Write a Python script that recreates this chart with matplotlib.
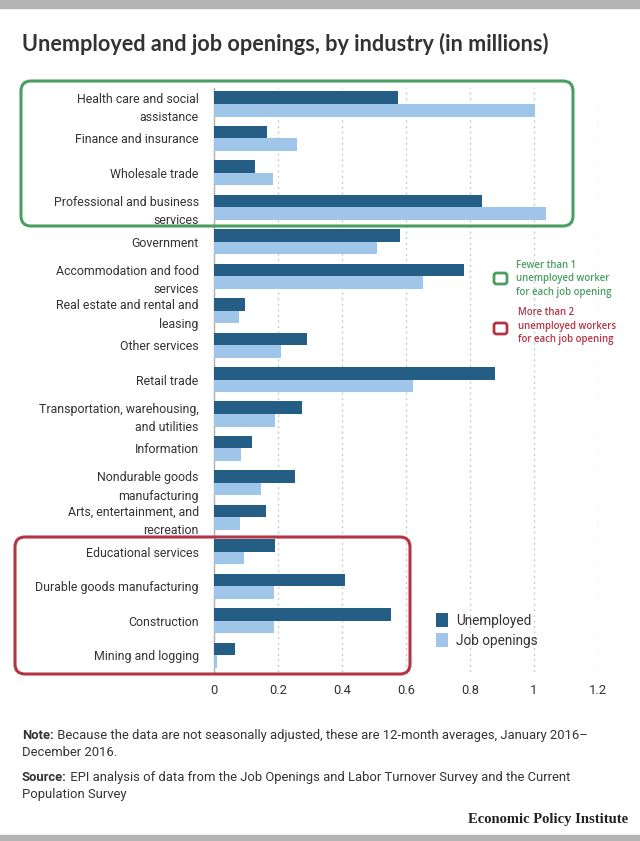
import matplotlib
matplotlib.use("Agg")
import matplotlib.pyplot as plt
from matplotlib.patches import FancyBboxPatch, Rectangle
import numpy as np

industries = [
    "Health care and social\nassistance",
    "Finance and insurance",
    "Wholesale trade",
    "Professional and business\nservices",
    "Government",
    "Accommodation and food\nservices",
    "Real estate and rental and\nleasing",
    "Other services",
    "Retail trade",
    "Transportation, warehousing,\nand utilities",
    "Information",
    "Nondurable goods\nmanufacturing",
    "Arts, entertainment, and\nrecreation",
    "Educational services",
    "Durable goods manufacturing",
    "Construction",
    "Mining and logging",
]
unemployed = [0.575, 0.166, 0.128, 0.838, 0.581, 0.782, 0.096, 0.291, 0.877,
              0.275, 0.120, 0.252, 0.162, 0.192, 0.409, 0.554, 0.065]
job_openings = [1.003, 0.258, 0.185, 1.038, 0.508, 0.654, 0.078, 0.208, 0.623,
                0.192, 0.083, 0.148, 0.080, 0.093, 0.189, 0.189, 0.010]
xticks = [0, 0.2, 0.4, 0.6, 0.8, 1.0, 1.2]
xtick_labels = ["0", "0.2", "0.4", "0.6", "0.8", "1", "1.2"]

dark_blue = "#255e84"
light_blue = "#9fc5e8"
green = "#4a9e62"
red = "#b53444"
text_col = "#333333"

plt.rcParams["font.family"] = ["Roboto", "DejaVu Sans"]

W, H = 640, 841
fig = plt.figure(figsize=(W / 100, H / 100), dpi=100)


def fx(px):
    return px / W


def fy(py):
    return 1 - py / H


# gray bands top and bottom
fig.patches.append(Rectangle((0, fy(8)), 1, 8 / H, transform=fig.transFigure,
                             color="#b4b4b4", zorder=0))
fig.patches.append(Rectangle((0, 0), 1, 6 / H, transform=fig.transFigure,
                             color="#b4b4b4", zorder=0))

fig.text(fx(22), fy(44), "Unemployed and job openings, by industry (in millions)",
         fontsize=15.6, fontweight="bold", color=text_col, va="center", ha="left",
         family=["Lato", "DejaVu Sans"])

ax = fig.add_axes([fx(214), fy(672), fx(598) - fx(214), (672 - 88) / H])
y = np.arange(len(industries))
h = 0.365
ax.barh(y - h / 2, unemployed, height=h, color=dark_blue, label="Unemployed", zorder=3)
ax.barh(y + h / 2, job_openings, height=h, color=light_blue, label="Job openings", zorder=3)

ax.set_xlim(0, 1.2)
ax.set_ylim(16.49, -0.465)
ax.set_yticks(y)
ax.set_yticklabels(industries, fontsize=8.9, color=text_col)
for lab in ax.get_yticklabels():
    lab.set_multialignment("right")
    lab.set_linespacing(1.55)
ax.set_xticks(xticks)
ax.set_xticklabels(xtick_labels, fontsize=9.4, color=text_col)
ax.tick_params(axis="y", length=0, pad=11)
ax.tick_params(axis="x", length=0, pad=9)
for s in ["top", "right", "bottom"]:
    ax.spines[s].set_visible(False)
ax.spines["left"].set_color("#b0b0b0")
ax.spines["left"].set_linewidth(1)
ax.xaxis.grid(True, linestyle=(0, (1.5, 2.5)), color="#cccccc", linewidth=1, zorder=0)
ax.set_axisbelow(True)

leg = ax.legend(loc="upper left", bbox_to_anchor=(fx(436), fy(613)),
                bbox_transform=fig.transFigure, frameon=False, fontsize=9.8,
                handlelength=0.9, handleheight=1.2, handletextpad=0.55,
                labelspacing=0.4, borderpad=0, borderaxespad=0)
for t in leg.get_texts():
    t.set_color(text_col)


# highlight boxes (inches)
def box(x0, y0, x1, y1, color, lw=2.2, r=0.1):
    p = FancyBboxPatch((x0 / 100, (H - y1) / 100), (x1 - x0) / 100, (y1 - y0) / 100,
                       boxstyle="round,pad=0,rounding_size=%s" % r,
                       transform=fig.dpi_scale_trans, fill=False,
                       edgecolor=color, linewidth=lw, zorder=10)
    fig.patches.append(p)


box(21, 81, 573, 226, green)
box(15, 537, 410, 674, red)
box(494, 273, 507, 284, green, lw=2, r=0.025)
box(494, 323, 507, 334, red, lw=2, r=0.025)

fig.text(fx(516), fy(279), "Fewer than 1\nunemployed worker\nfor each job opening",
         fontsize=6.9, color=green, va="center", ha="left", linespacing=1.35,
         fontweight="semibold", family=["Open Sans", "DejaVu Sans"])
fig.text(fx(518), fy(326), "More than 2\nunemployed workers\nfor each job opening",
         fontsize=6.9, color=red, va="center", ha="left", linespacing=1.35,
         fontweight="semibold", family=["Open Sans", "DejaVu Sans"])

# notes
fs = 9.4
t1 = fig.text(fx(22), fy(739), "Note:", fontsize=fs, fontweight="bold", color=text_col)
ax.annotate(" Because the data are not seasonally adjusted, these are 12-month averages, January 2016\u2013",
            xy=(1, 0), xycoords=t1, va="bottom", fontsize=fs, color=text_col,
            annotation_clip=False)
fig.text(fx(22), fy(756), "December 2016.", fontsize=fs, color=text_col)

t2 = fig.text(fx(22), fy(781), "Source:", fontsize=fs, fontweight="bold", color=text_col)
ax.annotate(" EPI analysis of data from the Job Openings and Labor Turnover Survey and the Current",
            xy=(1, 0), xycoords=t2, va="bottom", fontsize=fs, color=text_col,
            annotation_clip=False)
fig.text(fx(22), fy(798), "Population Survey", fontsize=fs, color=text_col)

fig.text(fx(628), fy(820), "Economic Policy Institute", fontsize=10.5, fontweight="bold",
         color="#222222", ha="right", va="center",
         family=["Liberation Serif", "DejaVu Serif"])

fig.savefig("out.png", dpi=100)
